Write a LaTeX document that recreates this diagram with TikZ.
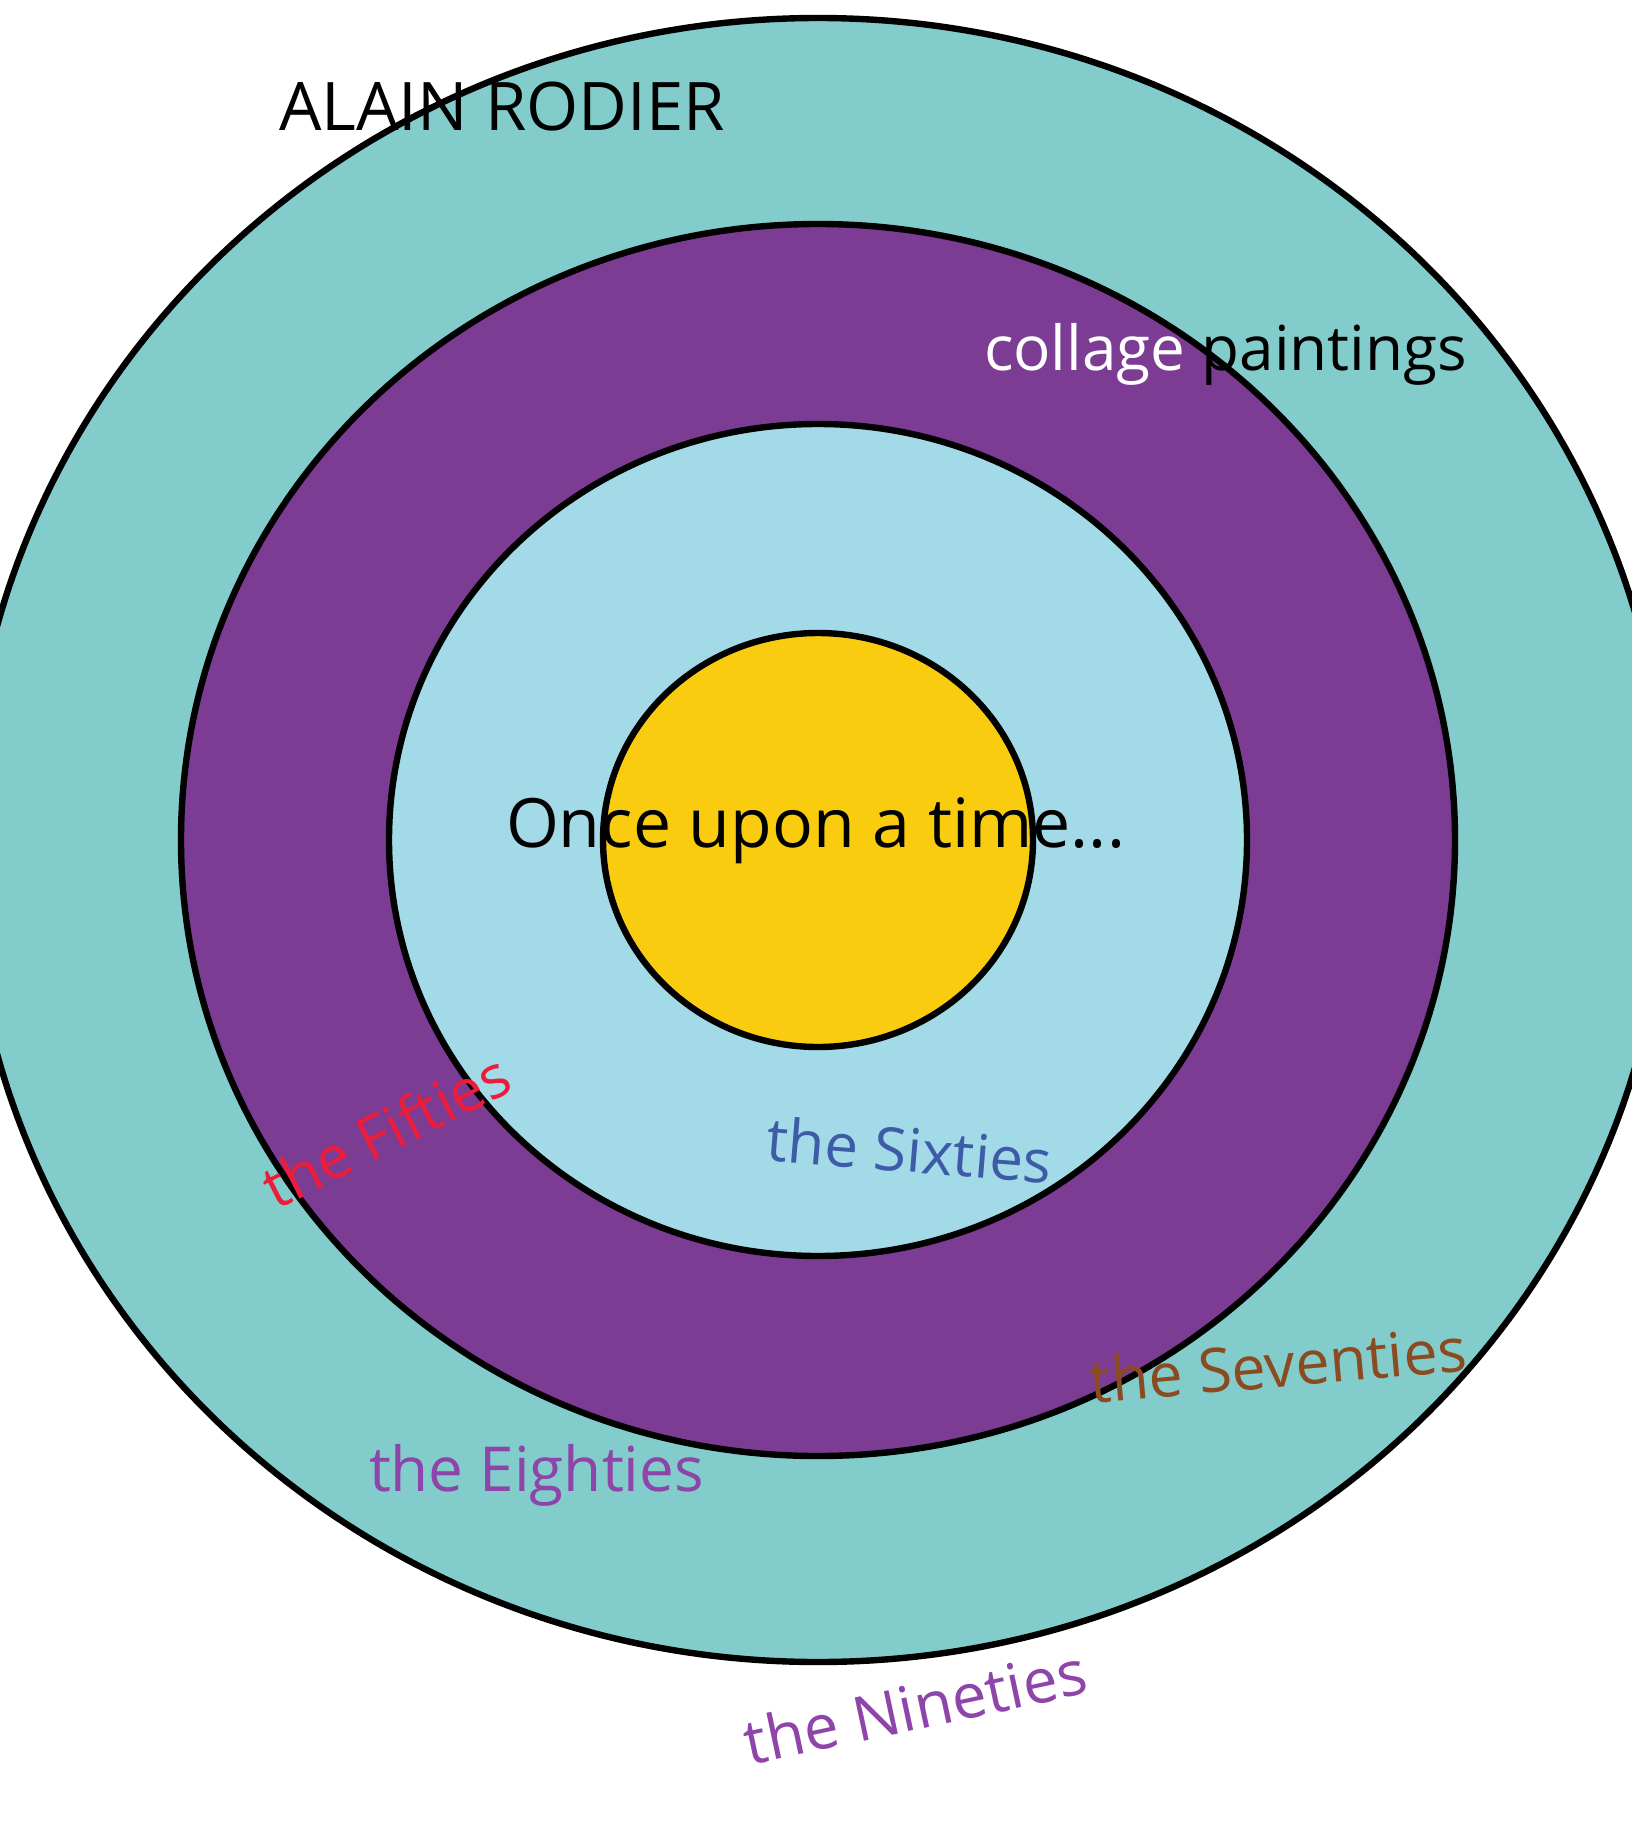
\documentclass[tikz,border=0pt]{standalone}
\usepackage{fontspec}
\setmainfont{Open Sans}
\definecolor{ringteal}{HTML}{82CDCB}
\definecolor{ringpurple}{HTML}{7D3C94}
\definecolor{ringblue}{HTML}{A3DAE8}
\definecolor{ringyellow}{HTML}{F9CC0F}
\definecolor{txtred}{HTML}{ED1C3A}
\definecolor{txtblue}{HTML}{3E5BA8}
\definecolor{txtbrown}{HTML}{8B4A1F}
\definecolor{txtpurple}{HTML}{8E44A8}
\tikzset{
  ring/.style={draw=black, line width=3.2pt},
  lbl/.style={inner sep=0pt, outer sep=0pt},
}
\newcommand{\fs}[1]{\fontsize{#1}{#1}\selectfont}
\begin{document}
\begin{tikzpicture}[x=0.5pt,y=-0.5pt]
\useasboundingbox (0,0) rectangle (1632,1830);
\fill[white] (0,0) rectangle (1632,1830);
\begin{scope}
\clip (0,0) rectangle (1632,1830);
\coordinate (c) at (818,840);
\path[ring, fill=ringteal] (c) ellipse [x radius=850, y radius=822];
\path[ring, fill=ringpurple] (c) ellipse [x radius=637, y radius=616];
\path[ring, fill=ringblue] (c) ellipse [x radius=429, y radius=416];
\path[ring, fill=ringyellow] (c) ellipse [x radius=215, y radius=207];
\end{scope}
\node[lbl, anchor=base west] (alain) at (279,131) {\fs{33.5}ALAIN RODIER};
\node[lbl, anchor=base west] (collage) at (984,370) {\fs{31}{\color{white}collage} paintings};
\node[lbl, anchor=base west] (once) at (506,847) {\fs{34}Once upon a time...};
\node[lbl, anchor=base, rotate=27, text=txtred] (fifties) at (396,1150) {\fs{29.5}the Fifties};
\node[lbl, anchor=base, rotate=-4.6, text=txtblue] (sixties) at (908,1172) {\fs{30}the Sixties};
\node[lbl, anchor=base, rotate=5, text=txtbrown] (seventies) at (1280,1387) {\fs{30.5}the Seventies};
\node[lbl, anchor=base west, text=txtpurple] (eighties) at (369,1491) {\fs{31}the Eighties};
\node[lbl, anchor=base, rotate=12, text=txtpurple] (nineties) at (920,1729) {\fs{31}the Nineties};
\end{tikzpicture}
\end{document}
